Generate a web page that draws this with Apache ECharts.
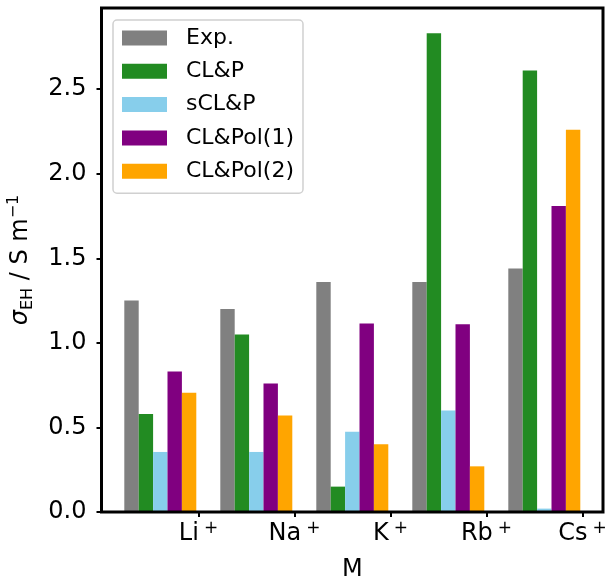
<!DOCTYPE html>
<html>
<head>
<meta charset="utf-8">
<script src="https://cdn.jsdelivr.net/npm/echarts@6/dist/echarts.min.js"></script>
<style>
  html, body { margin: 0; padding: 0; background: #fff; }
  #chart { width: 608px; height: 577px; }
</style>
</head>
<body>
<div id="chart"></div>
<script>
  // ions on the x axis (shown with a superscript +)
  const categories = ['Li', 'Na', 'K', 'Rb', 'Cs']
  const yTicks = [0, 0.5, 1.0, 1.5, 2.0, 2.5]

  const expVals = [1.25, 1.20, 1.36, 1.36, 1.44]
  const clpVals = [0.58, 1.05, 0.15, 2.83, 2.61]
  const sclpVals = [0.355, 0.355, 0.475, 0.60, 0.02]
  const pol1Vals = [0.83, 0.76, 1.115, 1.11, 1.81]
  const pol2Vals = [0.705, 0.57, 0.40, 0.27, 2.26]

  const font = 'DejaVu Sans'
  const yMax = 2.98

  const chart = echarts.init(document.getElementById('chart'), null, { renderer: 'canvas' })

  function barSeries(name, color, data) {
    return {
      name: name,
      type: 'bar',
      xAxisIndex: 1,
      yAxisIndex: 1,
      barWidth: 14.4,
      barGap: '0%',
      itemStyle: { color: color },
      emphasis: { disabled: true },
      data: data
    }
  }

  chart.setOption({
    backgroundColor: '#fff',
    animation: false,
    textStyle: { fontFamily: font },
    grid: [
      // frame
      { left: 101.5, top: 8, width: 501.5, height: 504, outerBoundsMode: 'none', show: true, borderColor: '#000', borderWidth: 3, backgroundColor: 'transparent', z: 10 },
      // bars
      { left: 112.3, top: 8, width: 480, height: 504, outerBoundsMode: 'none' },
      // tick labels
      { left: 150.5, top: 8, width: 480, height: 504, outerBoundsMode: 'none' }
    ],
    legend: {
      left: 113,
      top: 20,
      orient: 'vertical',
      icon: 'rect',
      itemWidth: 45,
      itemHeight: 15,
      itemGap: 9.3,
      padding: [6, 9, 10, 9],
      borderColor: '#d0d0d0',
      borderWidth: 1.5,
      borderRadius: 4,
      backgroundColor: 'rgba(255,255,255,0.8)',
      selectedMode: false,
      textStyle: { fontFamily: font, fontSize: 22, color: '#000', lineHeight: 24, padding: [0, 0, 0, 14] },
      data: ['Exp.', 'CL&P', 'sCL&P', 'CL&Pol(1)', 'CL&Pol(2)']
    },
    xAxis: [
      {
        gridIndex: 0,
        type: 'value',
        min: 0,
        max: 1,
        axisLine: { show: false },
        axisTick: { show: false },
        axisLabel: { show: false },
        splitLine: { show: false },
        name: 'M',
        nameLocation: 'middle',
        nameGap: 46,
        nameTextStyle: { fontFamily: font, fontSize: 24, color: '#000' }
      },
      {
        gridIndex: 1,
        type: 'category',
        data: categories,
        show: false
      },
      {
        gridIndex: 2,
        type: 'category',
        data: categories,
        axisLine: { show: false },
        axisTick: { show: true, alignWithLabel: true, interval: 0, length: 5, lineStyle: { color: '#000', width: 2 } },
        axisLabel: {
          interval: 0,
          margin: 8,
          formatter: function (v) { return '{m|' + v + '}{p|+}' },
          rich: {
            m: { fontFamily: font, fontSize: 24, color: '#000', lineHeight: 28 },
            p: { fontFamily: font, fontSize: 17, color: '#000', verticalAlign: 'top', padding: [0, 0, 0, 5], lineHeight: 20 }
          }
        },
        splitLine: { show: false }
      }
    ],
    yAxis: [
      {
        gridIndex: 0,
        type: 'value',
        min: 0,
        max: yMax,
        axisLine: { show: false },
        axisTick: { show: true, length: 5, customValues: yTicks, lineStyle: { color: '#000', width: 2 } },
        axisLabel: {
          margin: 15,
          customValues: yTicks,
          fontFamily: font,
          fontSize: 24,
          color: '#000',
          formatter: function (v) { return v.toFixed(1) }
        },
        splitLine: { show: false },
        name: '{s|σ}{b|EH}{a| / S m}{c|−1}',
        nameLocation: 'middle',
        nameGap: 66,
        nameTextStyle: {
          rich: {
            s: { fontFamily: font, fontSize: 24, fontStyle: 'italic', color: '#000', lineHeight: 30, verticalAlign: 'middle' },
            a: { fontFamily: font, fontSize: 24, color: '#000', lineHeight: 30, verticalAlign: 'middle' },
            b: { fontFamily: font, fontSize: 16, color: '#000', lineHeight: 16, verticalAlign: 'bottom' },
            c: { fontFamily: font, fontSize: 16, color: '#000', lineHeight: 16, verticalAlign: 'top' }
          }
        }
      },
      { gridIndex: 1, type: 'value', min: 0, max: yMax, show: false },
      { gridIndex: 2, type: 'value', min: 0, max: yMax, show: false }
    ],
    series: [
      barSeries('Exp.', '#808080', expVals),
      barSeries('CL&P', '#228b22', clpVals),
      barSeries('sCL&P', '#87ceeb', sclpVals),
      barSeries('CL&Pol(1)', '#800080', pol1Vals),
      barSeries('CL&Pol(2)', '#ffa500', pol2Vals)
    ]
  })
</script>
</body>
</html>
